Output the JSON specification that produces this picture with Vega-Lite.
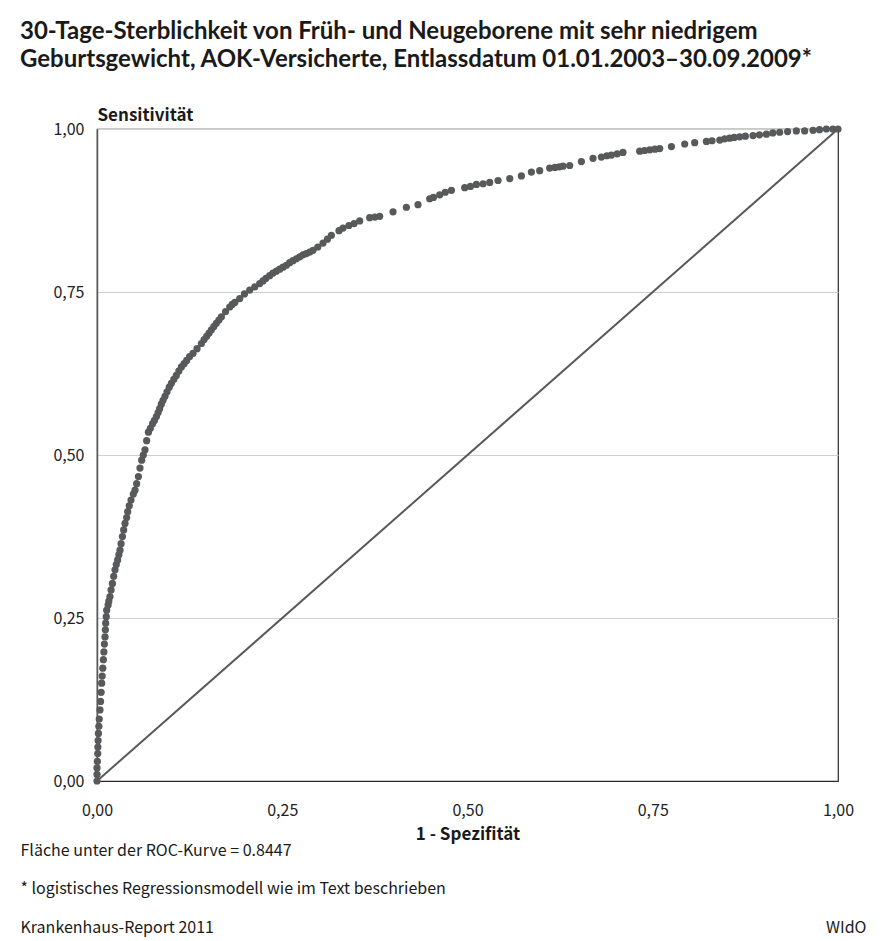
{
  "$schema": "https://vega.github.io/schema/vega-lite/v6.json",
  "width": 741,
  "height": 652,
  "autosize": "none",
  "padding": {"left": 97, "top": 129, "right": 43, "bottom": 160},
  "background": "white",
  "title": {
    "text": ["30-Tage-Sterblichkeit von Früh- und Neugeborene mit sehr niedrigem", "Geburtsgewicht, AOK-Versicherte, Entlassdatum 01.01.2003–30.09.2009*"],
    "anchor": "start",
    "frame": "group",
    "dx": -77,
    "offset": 34,
    "font": "Lato, Noto Sans CJK SC, sans-serif",
    "fontSize": 24,
    "fontWeight": "bold",
    "lineHeight": 28,
    "color": "#1a1a1a"
  },
  "config": {
    "view": {"stroke": "#2a2a2a", "strokeWidth": 1.2},
    "axis": {
      "labelFont": "Noto Sans CJK SC, Lato, sans-serif",
      "titleFont": "Noto Sans CJK SC, Lato, sans-serif",
      "labelFontSize": 16,
      "titleFontSize": 17,
      "labelColor": "#222",
      "titleColor": "#1a1a1a"
    }
  },
  "layer": [
    {
      "data": {"values": [{"x": 0, "y": 0}, {"x": 1, "y": 1}]},
      "mark": {"type": "line", "color": "#58595b", "strokeWidth": 2},
      "encoding": {
        "x": {
          "field": "x", "type": "quantitative",
          "scale": {"domain": [0, 1], "nice": false},
          "axis": {
            "orient": "top", "labels": false, "ticks": false, "domain": false, "grid": false,
            "title": ["Fläche unter der ROC-Kurve = 0.8447", "* logistisches Regressionsmodell wie im Text beschrieben", "Krankenhaus-Report 2011"],
            "titleX": -77, "titleY": 726, "titleAlign": "left", "titleAngle": 0,
            "titleBaseline": "alphabetic", "titleFontWeight": "normal", "titleLineHeight": 38.5, "titleFontSize": 16
          }
        },
        "y": {
          "field": "y", "type": "quantitative",
          "scale": {"domain": [0, 1], "nice": false},
          "axis": {
            "orient": "right", "labels": false, "ticks": false, "domain": false, "grid": false,
            "title": "WIdO",
            "titleX": 28, "titleY": 803, "titleAlign": "right", "titleAngle": 0,
            "titleBaseline": "alphabetic", "titleFontWeight": "normal", "titleFontSize": 16
          }
        }
      }
    },
    {
      "data": {"values": [
        {"fpr": 0.000, "tpr": 0.000}, {"fpr": 0.000, "tpr": 0.010}, {"fpr": 0.000, "tpr": 0.020},
        {"fpr": 0.0005, "tpr": 0.030}, {"fpr": 0.001, "tpr": 0.042}, {"fpr": 0.0012, "tpr": 0.052},
        {"fpr": 0.0015, "tpr": 0.062}, {"fpr": 0.0019, "tpr": 0.073}, {"fpr": 0.0025, "tpr": 0.084},
        {"fpr": 0.003, "tpr": 0.095}, {"fpr": 0.004, "tpr": 0.109}, {"fpr": 0.0048, "tpr": 0.122},
        {"fpr": 0.0056, "tpr": 0.136}, {"fpr": 0.0063, "tpr": 0.150}, {"fpr": 0.007, "tpr": 0.161},
        {"fpr": 0.0078, "tpr": 0.173}, {"fpr": 0.0086, "tpr": 0.186}, {"fpr": 0.0093, "tpr": 0.198},
        {"fpr": 0.010, "tpr": 0.210}, {"fpr": 0.0108, "tpr": 0.221}, {"fpr": 0.0113, "tpr": 0.232},
        {"fpr": 0.0117, "tpr": 0.242}, {"fpr": 0.0125, "tpr": 0.252}, {"fpr": 0.0131, "tpr": 0.262},
        {"fpr": 0.0150, "tpr": 0.270}, {"fpr": 0.0160, "tpr": 0.276}, {"fpr": 0.0175, "tpr": 0.283},
        {"fpr": 0.019, "tpr": 0.293}, {"fpr": 0.0208, "tpr": 0.303}, {"fpr": 0.0225, "tpr": 0.314},
        {"fpr": 0.0243, "tpr": 0.324}, {"fpr": 0.026, "tpr": 0.332}, {"fpr": 0.0279, "tpr": 0.339},
        {"fpr": 0.0295, "tpr": 0.347}, {"fpr": 0.0310, "tpr": 0.354}, {"fpr": 0.0325, "tpr": 0.364},
        {"fpr": 0.0343, "tpr": 0.375}, {"fpr": 0.036, "tpr": 0.385}, {"fpr": 0.0378, "tpr": 0.395},
        {"fpr": 0.040, "tpr": 0.404}, {"fpr": 0.0414, "tpr": 0.413}, {"fpr": 0.0435, "tpr": 0.422},
        {"fpr": 0.0459, "tpr": 0.431}, {"fpr": 0.049, "tpr": 0.440}, {"fpr": 0.0513, "tpr": 0.446},
        {"fpr": 0.0535, "tpr": 0.456}, {"fpr": 0.0559, "tpr": 0.467}, {"fpr": 0.058, "tpr": 0.480},
        {"fpr": 0.0603, "tpr": 0.492}, {"fpr": 0.0625, "tpr": 0.500}, {"fpr": 0.0648, "tpr": 0.508},
        {"fpr": 0.067, "tpr": 0.522}, {"fpr": 0.0694, "tpr": 0.535}, {"fpr": 0.072, "tpr": 0.541},
        {"fpr": 0.075, "tpr": 0.548}, {"fpr": 0.0775, "tpr": 0.553}, {"fpr": 0.0802, "tpr": 0.559},
        {"fpr": 0.0825, "tpr": 0.565}, {"fpr": 0.0845, "tpr": 0.571}, {"fpr": 0.0868, "tpr": 0.578},
        {"fpr": 0.0891, "tpr": 0.584}, {"fpr": 0.0918, "tpr": 0.590}, {"fpr": 0.0945, "tpr": 0.597},
        {"fpr": 0.0975, "tpr": 0.604}, {"fpr": 0.1004, "tpr": 0.610}, {"fpr": 0.1037, "tpr": 0.616},
        {"fpr": 0.107, "tpr": 0.622}, {"fpr": 0.1105, "tpr": 0.629}, {"fpr": 0.1139, "tpr": 0.635},
        {"fpr": 0.1175, "tpr": 0.640}, {"fpr": 0.121, "tpr": 0.645}, {"fpr": 0.125, "tpr": 0.651},
        {"fpr": 0.1296, "tpr": 0.656}, {"fpr": 0.135, "tpr": 0.663}, {"fpr": 0.1409, "tpr": 0.671},
        {"fpr": 0.1445, "tpr": 0.677}, {"fpr": 0.148, "tpr": 0.682}, {"fpr": 0.1512, "tpr": 0.687},
        {"fpr": 0.1544, "tpr": 0.692}, {"fpr": 0.1577, "tpr": 0.697}, {"fpr": 0.161, "tpr": 0.702},
        {"fpr": 0.1645, "tpr": 0.707}, {"fpr": 0.1679, "tpr": 0.712}, {"fpr": 0.1735, "tpr": 0.720},
        {"fpr": 0.1791, "tpr": 0.727}, {"fpr": 0.1825, "tpr": 0.731}, {"fpr": 0.186, "tpr": 0.734},
        {"fpr": 0.1926, "tpr": 0.740}, {"fpr": 0.199, "tpr": 0.747}, {"fpr": 0.2061, "tpr": 0.753},
        {"fpr": 0.213, "tpr": 0.758}, {"fpr": 0.2196, "tpr": 0.763}, {"fpr": 0.224, "tpr": 0.767},
        {"fpr": 0.228, "tpr": 0.771}, {"fpr": 0.233, "tpr": 0.775}, {"fpr": 0.2375, "tpr": 0.779},
        {"fpr": 0.242, "tpr": 0.782}, {"fpr": 0.2465, "tpr": 0.785}, {"fpr": 0.251, "tpr": 0.788},
        {"fpr": 0.2556, "tpr": 0.791}, {"fpr": 0.260, "tpr": 0.795}, {"fpr": 0.2645, "tpr": 0.798},
        {"fpr": 0.269, "tpr": 0.801}, {"fpr": 0.2736, "tpr": 0.804}, {"fpr": 0.278, "tpr": 0.807},
        {"fpr": 0.2825, "tpr": 0.809}, {"fpr": 0.287, "tpr": 0.811}, {"fpr": 0.2915, "tpr": 0.814},
        {"fpr": 0.298, "tpr": 0.819}, {"fpr": 0.3050, "tpr": 0.825}, {"fpr": 0.311, "tpr": 0.831},
        {"fpr": 0.3163, "tpr": 0.837}, {"fpr": 0.3266, "tpr": 0.844}, {"fpr": 0.3320, "tpr": 0.848},
        {"fpr": 0.3400, "tpr": 0.852}, {"fpr": 0.3470, "tpr": 0.855},
        {"fpr": 0.3545, "tpr": 0.859}, {"fpr": 0.3680, "tpr": 0.864}, {"fpr": 0.3750, "tpr": 0.865},
        {"fpr": 0.3815, "tpr": 0.866}, {"fpr": 0.3995, "tpr": 0.873}, {"fpr": 0.4175, "tpr": 0.880},
        {"fpr": 0.4332, "tpr": 0.884}, {"fpr": 0.4490, "tpr": 0.893}, {"fpr": 0.4540, "tpr": 0.895},
        {"fpr": 0.4625, "tpr": 0.899}, {"fpr": 0.4700, "tpr": 0.903}, {"fpr": 0.4783, "tpr": 0.906},
        {"fpr": 0.4962, "tpr": 0.910}, {"fpr": 0.5040, "tpr": 0.912}, {"fpr": 0.5120, "tpr": 0.915},
        {"fpr": 0.5210, "tpr": 0.916}, {"fpr": 0.5300, "tpr": 0.918}, {"fpr": 0.5412, "tpr": 0.921},
        {"fpr": 0.5570, "tpr": 0.924}, {"fpr": 0.5727, "tpr": 0.928}, {"fpr": 0.5862, "tpr": 0.934},
        {"fpr": 0.5974, "tpr": 0.936}, {"fpr": 0.6109, "tpr": 0.940}, {"fpr": 0.6180, "tpr": 0.941},
        {"fpr": 0.6240, "tpr": 0.942}, {"fpr": 0.6289, "tpr": 0.943}, {"fpr": 0.6379, "tpr": 0.944},
        {"fpr": 0.6537, "tpr": 0.950}, {"fpr": 0.6694, "tpr": 0.955}, {"fpr": 0.6807, "tpr": 0.957},
        {"fpr": 0.6880, "tpr": 0.959}, {"fpr": 0.6942, "tpr": 0.960}, {"fpr": 0.7020, "tpr": 0.962},
        {"fpr": 0.7098, "tpr": 0.964}, {"fpr": 0.7324, "tpr": 0.966}, {"fpr": 0.7390, "tpr": 0.967},
        {"fpr": 0.7459, "tpr": 0.968}, {"fpr": 0.7530, "tpr": 0.969}, {"fpr": 0.7594, "tpr": 0.970},
        {"fpr": 0.7752, "tpr": 0.973}, {"fpr": 0.7931, "tpr": 0.977}, {"fpr": 0.8066, "tpr": 0.979},
        {"fpr": 0.8224, "tpr": 0.981}, {"fpr": 0.8300, "tpr": 0.982}, {"fpr": 0.8404, "tpr": 0.983},
        {"fpr": 0.8470, "tpr": 0.985}, {"fpr": 0.8538, "tpr": 0.986}, {"fpr": 0.8600, "tpr": 0.987},
        {"fpr": 0.8673, "tpr": 0.988}, {"fpr": 0.8750, "tpr": 0.989}, {"fpr": 0.8853, "tpr": 0.990},
        {"fpr": 0.8940, "tpr": 0.991}, {"fpr": 0.9034, "tpr": 0.992}, {"fpr": 0.9120, "tpr": 0.994},
        {"fpr": 0.9213, "tpr": 0.995}, {"fpr": 0.9320, "tpr": 0.996}, {"fpr": 0.9438, "tpr": 0.997},
        {"fpr": 0.9550, "tpr": 0.997}, {"fpr": 0.9663, "tpr": 0.998}, {"fpr": 0.9750, "tpr": 0.999},
        {"fpr": 0.9843, "tpr": 1.000}, {"fpr": 0.9930, "tpr": 1.000}, {"fpr": 1.000, "tpr": 1.000}
      ]},
      "mark": {"type": "circle", "size": 52, "color": "#58595b", "opacity": 1},
      "encoding": {
        "x": {
          "field": "fpr", "type": "quantitative",
          "scale": {"domain": [0, 1], "nice": false},
          "axis": {
            "orient": "bottom", "values": [0, 0.25, 0.5, 0.75, 1], "grid": false, "ticks": false,
            "domainColor": "#2a2a2a", "domainWidth": 1.2,
            "labelExpr": "replace(format(datum.value, '.2f'), '.', ',')",
            "labelPadding": 21, "labelFlush": false,
            "title": "1 - Spezifität", "titleFontWeight": "bold", "titlePadding": 8
          }
        },
        "y": {
          "field": "tpr", "type": "quantitative",
          "scale": {"domain": [0, 1], "nice": false},
          "axis": {
            "orient": "left", "values": [0, 0.25, 0.5, 0.75, 1], "grid": true, "gridColor": "#cfcfcf", "gridWidth": 1,
            "ticks": false, "domainColor": "#58595b", "domainWidth": 1.5,
            "labelExpr": "replace(format(datum.value, '.2f'), '.', ',')",
            "labelPadding": 13, "labelFlush": false,
            "title": "Sensitivität", "titleFontWeight": "bold", "titleAngle": 0,
            "titleX": 0, "titleY": -9, "titleAlign": "left", "titleBaseline": "alphabetic"
          }
        }
      }
    }
  ],
  "resolve": {"scale": {"x": "independent", "y": "independent"}, "axis": {"x": "independent", "y": "independent"}}
}
